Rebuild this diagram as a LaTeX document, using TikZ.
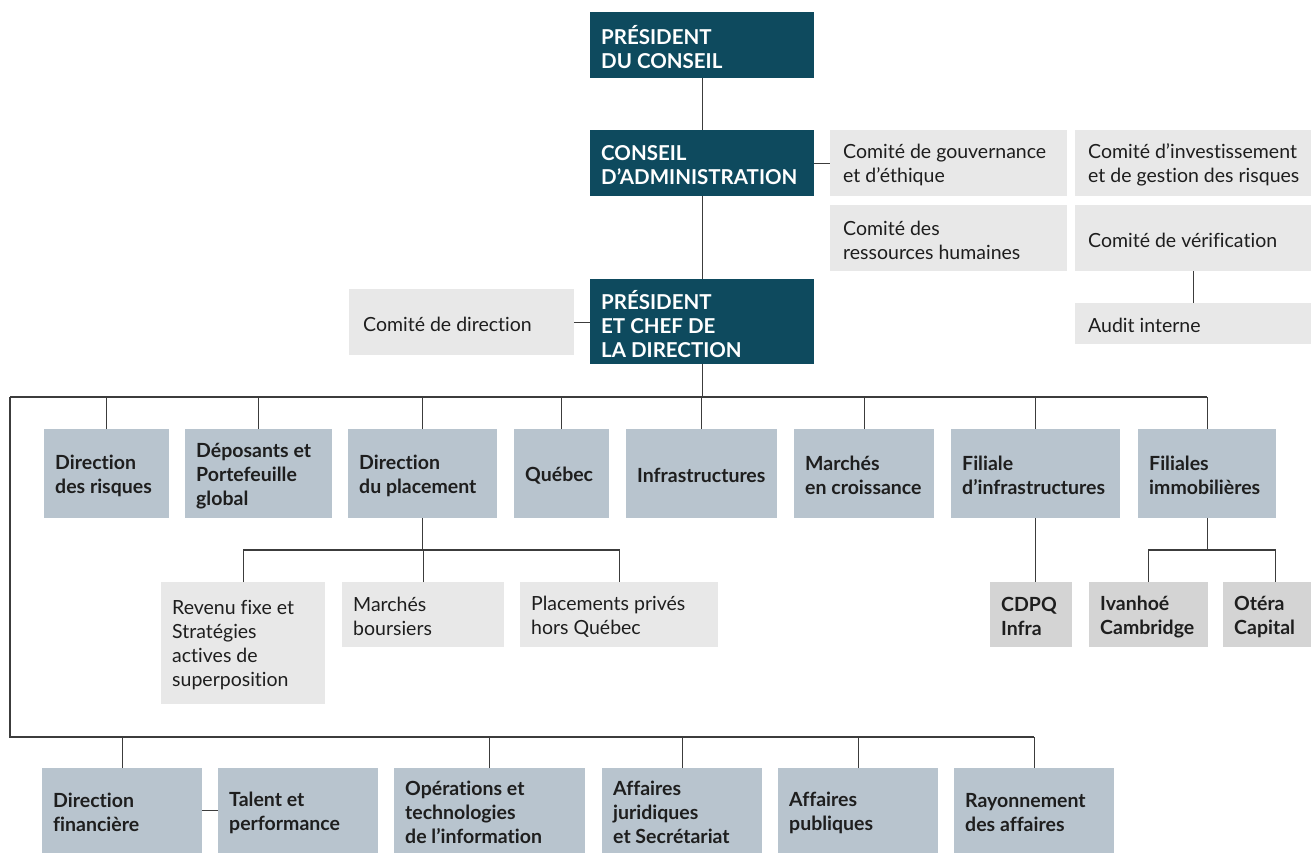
\documentclass[tikz,border=0pt]{standalone}
\usepackage{fontspec}
\setmainfont[Ligatures=NoCommon]{Lato}
\definecolor{teal}{RGB}{14,74,94}
\definecolor{bgray}{RGB}{184,196,206}
\definecolor{lgray}{RGB}{232,232,232}
\definecolor{mgray}{RGB}{212,212,212}
\definecolor{ink}{RGB}{30,30,30}
\definecolor{wire}{RGB}{60,60,60}
% #1 name, #2 style, #3 x, #4 y, #5 w, #6 h, #7 left pad, #8 text
\newcommand\bx[8]{%
  \node[#2, anchor=north west, minimum width=#5pt, minimum height=#6pt,
        inner sep=0pt] (#1) at (#3,#4) {};
  \node[#2, fill=none, anchor=west, align=left, inner sep=0pt]
        at ([xshift=#7pt,yshift=-2pt]#1.west) {#8};}
\begin{document}
\begin{tikzpicture}[x=1pt,y=-1pt,
  every node/.style={font=\fontsize{19.5}{24}\selectfont},
  topbox/.style={fill=teal, text=white, font=\fontsize{20.5}{24}\selectfont\bfseries},
  unitbox/.style={fill=bgray, text=ink, font=\fontsize{19.5}{24}\selectfont\bfseries},
  combox/.style={fill=lgray, text=ink},
  subbox/.style={fill=mgray, text=ink, font=\fontsize{19.5}{24}\selectfont\bfseries},
  wirest/.style={draw=wire, line width=1.2pt}]
\useasboundingbox (0,0) rectangle (1311,853);
% top level
\bx{pdc}{topbox}{590}{12}{224}{66}{11}{PRÉSIDENT\\DU CONSEIL}
\bx{ca}{topbox}{590}{130}{224}{66}{11}{CONSEIL\\D’ADMINISTRATION}
\bx{pcd}{topbox}{590}{279}{224}{85}{11}{PRÉSIDENT\\ET CHEF DE\\LA DIRECTION}
% committees
\bx{cgov}{combox}{830}{130}{237}{66}{13}{Comité de gouvernance\\et d’éthique}
\bx{cinv}{combox}{1075}{130}{236}{66}{13}{Comité d’investissement\\et de gestion des risques}
\bx{crh}{combox}{830}{205}{237}{66}{13}{Comité des\\ressources humaines}
\bx{cver}{combox}{1075}{205}{236}{66}{13}{Comité de vérification}
\bx{audit}{combox}{1075}{303}{236}{41}{13}{Audit interne}
\bx{cdir}{combox}{349}{289}{225}{66}{14}{Comité de direction}
% row 1
\bx{drisk}{unitbox}{44}{429}{125}{89}{11}{Direction\\des risques}
\bx{depo}{unitbox}{185}{429}{147}{89}{11}{Déposants et\\Portefeuille\\global}
\bx{dplac}{unitbox}{348}{429}{149}{89}{11}{Direction\\du placement}
\bx{queb}{unitbox}{514}{429}{95}{89}{11}{Québec}
\bx{infra}{unitbox}{626}{429}{151}{89}{11}{Infrastructures}
\bx{marc}{unitbox}{794}{429}{140}{89}{11}{Marchés\\en croissance}
\bx{finf}{unitbox}{951}{429}{169}{89}{11}{Filiale\\d’infrastructures}
\bx{fimm}{unitbox}{1138}{429}{138}{89}{11}{Filiales\\immobilières}
% row 2
\bx{rev}{combox}{161}{582}{164}{122}{11}{Revenu fixe et\\Stratégies\\actives de\\superposition}
\bx{mbou}{combox}{342}{582}{162}{65}{11}{Marchés\\boursiers}
\bx{ppriv}{combox}{520}{582}{198}{65}{11}{Placements privés\\hors Québec}
\bx{cdpq}{subbox}{990}{582}{82}{65}{11}{CDPQ\\Infra}
\bx{ivan}{subbox}{1089}{582}{119}{65}{11}{Ivanhoé\\Cambridge}
\bx{otera}{subbox}{1223}{582}{88}{65}{11}{Otéra\\Capital}
% bottom row
\bx{dfin}{unitbox}{42}{768}{160}{85}{11}{Direction\\financière}
\bx{talent}{unitbox}{218}{768}{160}{85}{11}{Talent et\\performance}
\bx{ops}{unitbox}{394}{768}{191}{85}{11}{Opérations et\\technologies\\de l’information}
\bx{jur}{unitbox}{602}{768}{160}{85}{11}{Affaires\\juridiques\\et Secrétariat}
\bx{pub}{unitbox}{778}{768}{160}{85}{11}{Affaires\\publiques}
\bx{rayo}{unitbox}{954}{768}{160}{85}{11}{Rayonnement\\des affaires}
% bus coordinates
\coordinate (bus) at (703,397);
\coordinate (busL) at (10,397);
\coordinate (busB) at (10,737);
\coordinate (placbus) at (423,550);
\coordinate (immbus) at (1206,550);
% connectors
\draw[wirest] (pdc.south) -- (ca.north);
\draw[wirest] (ca.south) -- (pcd.north);
\draw[wirest] (ca.east) -- (cgov.west);
\draw[wirest] (cver.south) -- (audit.north);
\draw[wirest] (cdir.east) -- (cdir.east -| pcd.west);
\draw[wirest] (pcd.south) -- (pcd.south |- bus);
\draw[wirest] (busL) -- (bus -| fimm.north);
\draw[wirest] (busL) -- (busB) -- (busB -| rayo.north);
\foreach \n in {drisk,depo,dplac,queb,infra,marc,finf,fimm}
  \draw[wirest] (\n.north) -- (\n.north |- bus);
\foreach \n in {dfin,ops,jur,pub,rayo}
  \draw[wirest] (\n.north) -- (\n.north |- busB);
\draw[wirest] (dfin.east) -- (dfin.east -| talent.west);
\draw[wirest] (dplac.south) -- (dplac.south |- placbus);
\draw[wirest] (rev.north) |- (placbus) -| (ppriv.north);
\draw[wirest] (mbou.north) -- (mbou.north |- placbus);
\draw[wirest] (finf.south) -- (cdpq.north -| finf.south);
\draw[wirest] (fimm.south) -- (fimm.south |- immbus);
\draw[wirest] (ivan.north) |- (immbus) -| ([xshift=8pt]otera.north);
\end{tikzpicture}
\end{document}
